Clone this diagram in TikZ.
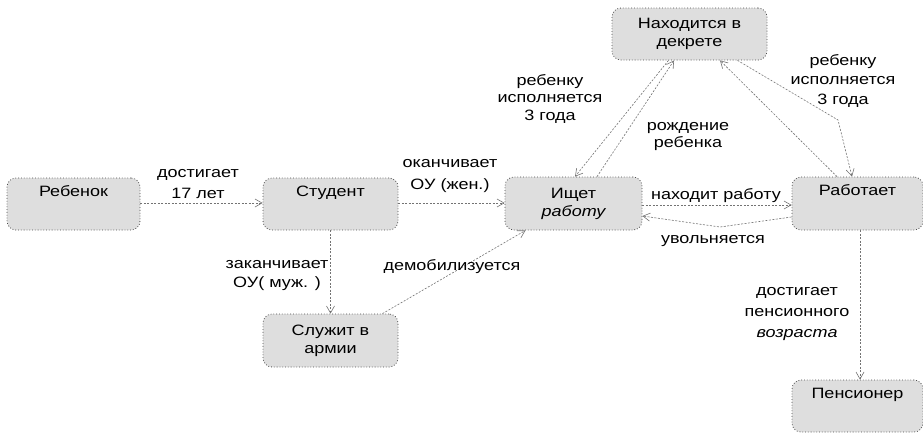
\documentclass[tikz,border=0pt]{standalone}
\usepackage{fontspec}
\setmainfont[FakeStretch=1.2]{Liberation Sans}
\usetikzlibrary{arrows.meta,calc}
\begin{document}
\begin{tikzpicture}[x=1pt,y=-1pt,
  state/.style={draw=black!70, dotted, line width=0.8pt, fill=black!13,
    rounded corners=9pt, minimum width=133pt, minimum height=52pt,
    inner sep=0pt, align=center, font=\fontsize{15}{18}\selectfont},
  oneline/.style={text height=11pt, text depth=27pt},
  lbl/.style={anchor=base, align=center, inner sep=0pt},
  tr/.style={draw=black!55, dash pattern=on 2pt off 1.5pt, line width=0.6pt,
    -{Straight Barb[length=7pt,width=8pt]}}]
\useasboundingbox[fill=white] (0,0) rectangle (923,434);

% states
\node[state, oneline] (reb) at (73.5,204) {Ребенок};
\node[state, oneline, minimum width=135pt] (stud) at (330.5,204) {Студент};
\node[state, minimum width=137pt, minimum height=53pt] (ishet) at (573.5,203.5) {Ищет\\{\itshape работу}};
\node[state, oneline, minimum width=131pt, minimum height=53pt] (rab) at (857.5,203.5) {Работает};
\node[state, minimum width=155pt] (dek) at (689.5,34) {Находится в\\декрете};
\node[state, minimum width=135pt, minimum height=53pt] (arm) at (330.5,340.5) {Служит в\\армии};
\node[state, oneline, minimum width=131pt] (pens) at (857.5,406) {Пенсионер};

\coordinate (uvb) at (720,227);
\coordinate (dekb) at (838,120);

% transitions
\draw[tr] ([yshift=1pt]reb.east) -- ([yshift=1pt]stud.west);
\draw[tr] ([yshift=1pt]stud.east) -- ([yshift=0.5pt]ishet.west);
\draw[tr] (stud.south) -- (arm.north);
\draw[tr] ([xshift=52pt]arm.north) -- ([xshift=-48pt]ishet.south);
\draw[tr] ([yshift=-1.5pt]ishet.east) -- ([yshift=-1.5pt]rab.west);
\draw[tr] ([yshift=-13.5pt]rab.west) -- (uvb) -- ([yshift=-12.5pt]ishet.east);
\draw[tr] ([xshift=-21pt]dek.south) -- ([xshift=1.5pt]ishet.north);
\draw[tr] ([xshift=23.5pt]ishet.north) -- ([xshift=-15.5pt]dek.south);
\draw[tr] ([xshift=-20.5pt]rab.north) -- ([xshift=30.5pt]dek.south);
\draw[tr] ([xshift=48pt]dek.south) -- (dekb) -- ([xshift=-5.5pt]rab.north);
\draw[tr] ([xshift=2.5pt]rab.south) -- ([xshift=2.5pt]pens.north);

% labels (anchor = baseline of the last line)
\node[lbl, font=\fontsize{15}{21}\selectfont] (l1) at (198,198) {достигает\\17 лет};
\node[lbl, font=\fontsize{15}{22}\selectfont] (l2) at (450,189) {оканчивает\\ОУ (жен.)};
\node[lbl, font=\fontsize{15}{19}\selectfont] (l3) at (277,287) {заканчивает\\ОУ( муж. )};
\node[lbl, font=\fontsize{15}{18}\selectfont] (l4) at (452,270) {демобилизуется};
\node[lbl, font=\fontsize{15}{17.5}\selectfont] (l5) at (550,120) {ребенку\\исполняется\\3 года};
\node[lbl, font=\fontsize{15}{17}\selectfont] (l6) at (688,147) {рождение\\ребенка};
\node[lbl, font=\fontsize{15}{19.5}\selectfont] (l7) at (843,104) {ребенку\\исполняется\\3 года};
\node[lbl, font=\fontsize{15}{18}\selectfont] (l8) at (716,199) {находит работу};
\node[lbl, font=\fontsize{15}{18}\selectfont] (l9) at (713,243) {увольняется};
\node[lbl, font=\fontsize{15}{21}\selectfont] (l10) at (797,337) {достигает\\пенсионного\\{\itshape возраста}};
\end{tikzpicture}
\end{document}
